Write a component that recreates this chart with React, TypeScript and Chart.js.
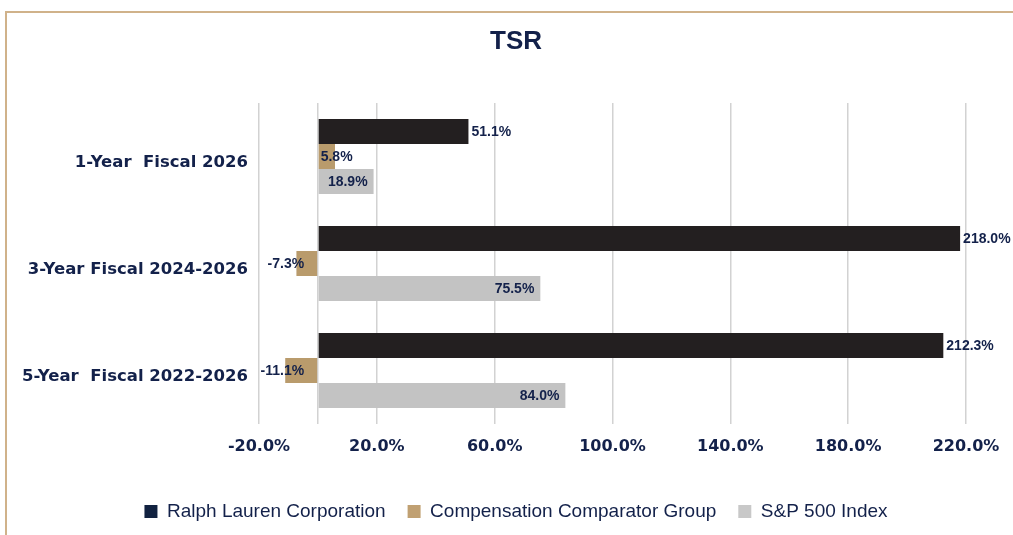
import React, { useEffect, useRef } from 'react';
import { Chart, registerables } from 'chart.js';

Chart.register(...registerables);

const categories = ['1-Year  Fiscal 2026', '3-Year Fiscal 2024-2026', '5-Year  Fiscal 2022-2026'];
const seriesNames = ['Ralph Lauren Corporation', 'Compensation Comparator Group', 'S&P 500 Index'];
const ralphLauren = [51.1, 218.0, 212.3];
const comparatorGroup = [5.8, -7.3, -11.1];
const sp500 = [18.9, 75.5, 84.0];
const gridValues = [-20, 0, 20, 60, 100, 140, 180, 220];

const NAVY = '#13214a';
const barColors = ['#231f20', '#b99b6c', '#c3c3c3'];
const legendColors = ['#112240', '#c0a072', '#c8c8c8'];

const labelPlugin = {
  id: 'barLabels',
  afterDatasetsDraw(chart: any) {
    const ctx = chart.ctx;
    ctx.save();
    ctx.font = 'bold 14px "Liberation Sans", Arial, sans-serif';
    ctx.fillStyle = NAVY;
    ctx.textBaseline = 'middle';
    chart.data.datasets.forEach((ds: any, di: number) => {
      const meta = chart.getDatasetMeta(di);
      meta.data.forEach((bar: any, i: number) => {
        const v = ds.data[i] as number;
        const text = v.toFixed(1) + '%';
        const { x, y, base } = bar.getProps(['x', 'y', 'base'], true);
        let tx = x;
        let align = 'left';
        if (di === 0) {
          tx = x + 3;
          align = 'left';
        } else if (di === 1) {
          if (v >= 0) {
            tx = base + 2;
            align = 'left';
          } else {
            tx = base - 13;
            align = 'right';
          }
        } else {
          tx = x - 6;
          align = 'right';
        }
        ctx.textAlign = align;
        ctx.fillText(text, tx, y + 1);
      });
    });
    ctx.restore();
  },
};

const legendFitPlugin = {
  id: 'legendFit',
  beforeLayout(chart: any) {
    const legend = chart.legend;
    if (legend && !legend._patchedFit) {
      const orig = legend.fit;
      legend.fit = function () {
        orig.call(this);
        this.height = 55;
      };
      legend._patchedFit = true;
    }
  },
};

export default function App() {
  const ref = useRef<HTMLCanvasElement | null>(null);

  useEffect(() => {
    if (!ref.current) return;
    const chart = new Chart(ref.current, {
      type: 'bar',
      data: {
        labels: categories,
        datasets: [
          { label: seriesNames[0], data: ralphLauren, backgroundColor: barColors[0] },
          { label: seriesNames[1], data: comparatorGroup, backgroundColor: barColors[1] },
          { label: seriesNames[2], data: sp500, backgroundColor: barColors[2] },
        ],
      },
      options: {
        indexAxis: 'y',
        responsive: false,
        animation: false,
        devicePixelRatio: 1,
        datasets: { bar: { barPercentage: 1, categoryPercentage: 0.7 } },
        layout: { padding: 0 },
        scales: {
          x: {
            type: 'linear',
            min: -20,
            max: 220,
            afterBuildTicks: (s: any) => {
              s.ticks = gridValues.map((v) => ({ value: v }));
            },
            afterFit: (s: any) => {
              s.height = 56;
            },
            grid: { color: '#d2d2d2', lineWidth: 1.5, drawTicks: false },
            border: { display: false },
            ticks: {
              autoSkip: false,
              maxRotation: 0,
              padding: 13,
              color: NAVY,
              font: { family: '"DejaVu Sans", sans-serif', size: 16, weight: 'bold' },
              callback: (v: any) => (Number(v) === 0 ? '' : Number(v).toFixed(1) + '%'),
            },
          },
          y: {
            afterFit: (s: any) => {
              s.width = 252;
            },
            grid: { display: false, drawTicks: false },
            border: { display: false },
            ticks: {
              padding: 11,
              labelOffset: 6,
              color: NAVY,
              font: { family: '"DejaVu Sans", sans-serif', size: 16.5, weight: 'bold' },
            },
          },
          rightSpace: {
            type: 'linear',
            axis: 'y',
            position: 'right',
            display: true,
            afterFit: (s: any) => {
              s.width = 59;
            },
            grid: { display: false, drawTicks: false },
            border: { display: false },
            ticks: { display: false },
          },
        },
        plugins: {
          title: {
            display: true,
            text: 'TSR',
            color: NAVY,
            font: { family: '"Liberation Sans", Arial, sans-serif', size: 26, weight: 'bold' },
            padding: { top: 13.4, bottom: 45.4 },
          },
          legend: {
            position: 'bottom',
            labels: {
              color: NAVY,
              boxWidth: 13,
              boxHeight: 13,
              padding: 22,
              font: { family: '"Liberation Sans", Arial, sans-serif', size: 19 },
              generateLabels: (c: any) => {
                const items = Chart.defaults.plugins.legend.labels.generateLabels(c);
                return items.map((it: any, i: number) => ({
                  ...it,
                  fillStyle: legendColors[i],
                  strokeStyle: legendColors[i],
                  lineWidth: 0,
                }));
              },
            },
          },
          tooltip: { enabled: false },
        },
      },
      plugins: [labelPlugin, legendFitPlugin],
    } as any);
    return () => chart.destroy();
  }, []);

  return (
    <div
      style={{
        position: 'fixed',
        left: 0,
        top: 0,
        width: 1013,
        height: 535,
        overflow: 'hidden',
        background: '#ffffff',
      }}
    >
      <div
        style={{
          position: 'absolute',
          left: 5,
          top: 11,
          width: 1060,
          height: 600,
          borderTop: '2px solid #d0b28a',
          borderLeft: '2px solid #d0b28a',
        }}
      />
      <canvas
        ref={ref}
        width={1018}
        height={522}
        style={{ position: 'absolute', left: 7, top: 13, width: 1018, height: 522 }}
      />
    </div>
  );
}
